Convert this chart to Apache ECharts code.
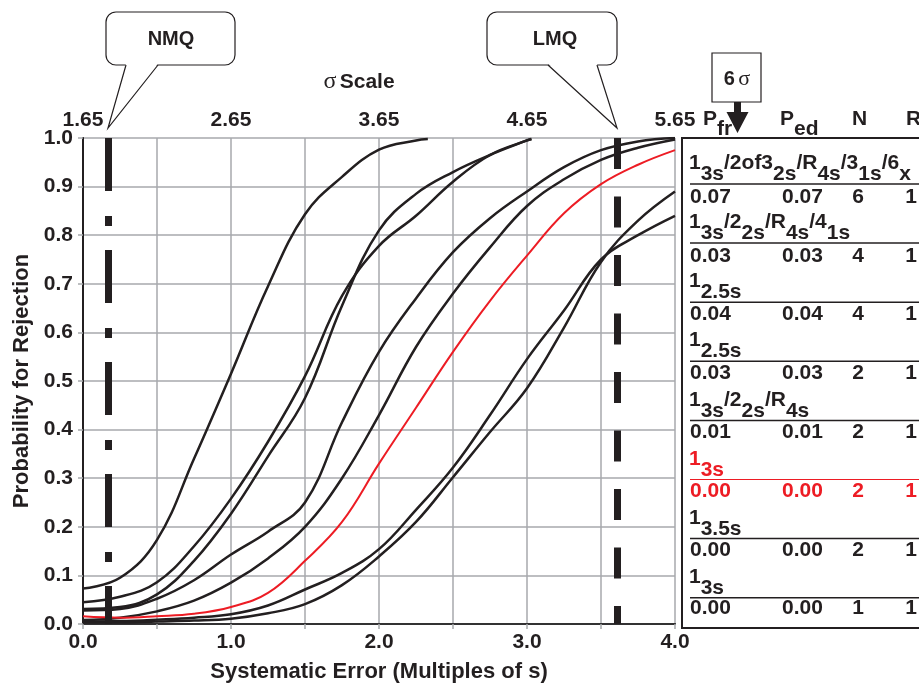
<!DOCTYPE html>
<html>
<head>
<meta charset="utf-8">
<script src="https://cdn.jsdelivr.net/npm/echarts@6/dist/echarts.min.js"></script>
<style>
html,body{margin:0;padding:0;background:#fff;}
#chart{width:919px;height:688px;}
</style>
</head>
<body>
<div id="chart"></div>
<script>
// ---------------- DATA ----------------
// x = systematic error (multiples of s), y = probability for rejection
const curveA = [[0,0.073],[0.25,0.095],[0.5,0.173],[0.75,0.34],[1.0,0.515],[1.25,0.695],[1.5,0.843],[1.75,0.92],[2.0,0.976],[2.25,0.995],[2.33,0.998]];
const curveB = [[0,0.045],[0.25,0.056],[0.5,0.086],[0.75,0.16],[1.0,0.258],[1.25,0.375],[1.5,0.51],[1.75,0.675],[2.0,0.778],[2.25,0.84],[2.5,0.91],[2.75,0.965],[3.0,0.995],[3.03,0.998]];
const curveC = [[0,0.031],[0.25,0.035],[0.5,0.061],[0.75,0.13],[1.0,0.227],[1.25,0.345],[1.5,0.465],[1.75,0.655],[2.0,0.81],[2.25,0.885],[2.5,0.93],[2.75,0.965],[3.0,0.995],[3.03,0.998]];
const curveD = [[0,0.028],[0.25,0.031],[0.5,0.052],[0.75,0.09],[1.0,0.143],[1.25,0.19],[1.5,0.25],[1.75,0.415],[2.0,0.56],[2.25,0.67],[2.5,0.765],[2.75,0.835],[3.0,0.89],[3.25,0.94],[3.5,0.975],[3.75,0.993],[4.0,1.0]];
const curveE = [[0,0.008],[0.25,0.013],[0.5,0.026],[0.75,0.048],[1.0,0.085],[1.25,0.135],[1.5,0.20],[1.75,0.30],[2.0,0.43],[2.25,0.57],[2.5,0.68],[2.75,0.775],[3.0,0.86],[3.25,0.915],[3.5,0.955],[3.75,0.98],[4.0,0.997]];
const curveRed = [[0,0.016],[0.25,0.013],[0.5,0.016],[0.75,0.021],[1.0,0.035],[1.25,0.064],[1.5,0.13],[1.75,0.21],[2.0,0.33],[2.25,0.445],[2.5,0.56],[2.75,0.665],[3.0,0.758],[3.25,0.845],[3.5,0.905],[3.75,0.945],[4.0,0.975]];
const curveF = [[0,0.005],[0.25,0.006],[0.5,0.009],[0.75,0.013],[1.0,0.02],[1.25,0.038],[1.5,0.071],[1.75,0.105],[2.0,0.154],[2.25,0.235],[2.5,0.322],[2.75,0.43],[3.0,0.545],[3.25,0.645],[3.5,0.75],[3.75,0.80],[4.0,0.84]];
const curveG = [[0,0.003],[0.25,0.003],[0.5,0.005],[0.75,0.007],[1.0,0.011],[1.25,0.022],[1.5,0.041],[1.75,0.08],[2.0,0.139],[2.25,0.21],[2.5,0.302],[2.75,0.395],[3.0,0.485],[3.25,0.61],[3.5,0.745],[3.75,0.83],[4.0,0.89]];

const sigmaOffset = 1.65;          // sigma scale = systematic error + 1.65
const nmqX = 0.17;                  // NMQ reference line
const lmqX = 3.61;                  // LMQ reference line

// table
const tableHeaders = ['P_{fr}', 'P_{ed}', 'N', 'R'];
const ruleNames = ['1_{3s}/2of3_{2s}/R_{4s}/3_{1s}/6_{x}', '1_{3s}/2_{2s}/R_{4s}/4_{1s}', '1_{2.5s}', '1_{2.5s}', '1_{3s}/2_{2s}/R_{4s}', '1_{3s}', '1_{3.5s}', '1_{3s}'];
const pfrVals = ['0.07','0.03','0.04','0.03','0.01','0.00','0.00','0.00'];
const pedVals = ['0.07','0.03','0.04','0.03','0.01','0.00','0.00','0.00'];
const nVals = ['6','4','4','2','2','2','2','1'];
const rVals = ['1','1','1','1','1','1','1','1'];
const highlightRow = 5;

// ---------------- STYLE ----------------
const FF = '"Liberation Sans", Arial, Helvetica, sans-serif';
const SERIF = '"Liberation Serif", "DejaVu Serif", serif';
const INK = '#231f20';
const RED = '#ed1c24';
const GRIDC = '#a7a9ac';

const chart = echarts.init(document.getElementById('chart'), null, {renderer: 'canvas'});

function toRich(s, up, low) {
  let out = '', last = 0, m;
  const re = /_\{([^}]*)\}/g;
  while ((m = re.exec(s))) {
    if (m.index > last) out += '{' + up + '|' + s.slice(last, m.index) + '}';
    out += '{' + low + '|' + m[1] + '}';
    last = re.lastIndex;
  }
  if (last < s.length) out += '{' + up + '|' + s.slice(last) + '}';
  return out;
}

function lineSeries(name, data, color, width) {
  return {
    name: name, type: 'line', data: data, showSymbol: false, symbol: 'none',
    smooth: 0.4,
    lineStyle: {color: color, width: width}, z: 3, silent: true
  };
}

const graphics = [];

// callouts: rounded box + pointer
function callout(box, base1, base2, tip, label, cx, cy) {
  graphics.push({type: 'rect', shape: {x: box[0], y: box[1], width: box[2], height: box[3], r: 10}, style: {fill: '#fff', stroke: INK, lineWidth: 1.2}, z: 10});
  const by = box[1] + box[3];
  graphics.push({type: 'polygon', shape: {points: [[base1, by - 1.5], [base2, by - 1.5], tip]}, style: {fill: '#fff'}, z: 11});
  graphics.push({type: 'polyline', shape: {points: [[base1, by], tip, [base2, by]]}, style: {stroke: INK, lineWidth: 1.2, fill: null}, z: 12});
  graphics.push({type: 'text', x: cx, y: cy, style: {text: label, font: 'bold 20px ' + FF, fill: INK, align: 'center', verticalAlign: 'middle'}, z: 13});
}
callout([106, 12, 129, 53], 126, 158, [108, 128], 'NMQ', 171, 39);
callout([487, 12, 130, 53], 548, 597, [617, 128], 'LMQ', 555, 39);

// sigma scale title
graphics.push({type: 'text', x: 359, y: 82, style: {
  text: '{s|σ} {b|Scale}', align: 'center', verticalAlign: 'middle', fill: INK,
  rich: {s: {fontFamily: SERIF, fontSize: 24, fill: INK}, b: {fontFamily: FF, fontWeight: 'bold', fontSize: 21, fill: INK}}
}});

// 6 sigma box and arrow
graphics.push({type: 'rect', shape: {x: 712, y: 53, width: 49, height: 49}, style: {fill: '#fff', stroke: INK, lineWidth: 1.2}});
graphics.push({type: 'text', x: 737, y: 79, style: {
  text: '{b|6} {s|σ}', align: 'center', verticalAlign: 'middle',
  rich: {b: {fontFamily: FF, fontWeight: 'bold', fontSize: 20, fill: INK}, s: {fontFamily: SERIF, fontSize: 22, fill: INK}}
}});
graphics.push({type: 'polygon', shape: {points: [[734,102],[741,102],[741,112],[748.5,112],[737.5,133],[726.5,112],[734,112]]}, style: {fill: INK}, z: 12});

// table frame
graphics.push({type: 'polyline', shape: {points: [[940,138],[682,138],[682,628],[940,628]]}, style: {stroke: INK, lineWidth: 2, fill: null}});

// headers
const hdrRich = {
  u: {fontFamily: FF, fontWeight: 'bold', fontSize: 21, fill: INK, padding: [0,0,10,0]},
  l: {fontFamily: FF, fontWeight: 'bold', fontSize: 21, fill: INK, padding: [10,0,0,0]}
};
const hdrX = [703, 780, 852, 906];
tableHeaders.forEach(function (h, i) {
  graphics.push({type: 'text', x: hdrX[i], y: 109, style: {text: toRich(h, 'u', 'l'), align: 'left', verticalAlign: 'top', rich: hdrRich}, z: 5});
});

// rows
ruleNames.forEach(function (nm, i) {
  const col = i === highlightRow ? RED : INK;
  const rich = {
    u: {fontFamily: FF, fontWeight: 'bold', fontSize: 21, fill: col, padding: [0,0,11,0]},
    l: {fontFamily: FF, fontWeight: 'bold', fontSize: 21, fill: col, padding: [11,0,0,0]}
  };
  const yName = 163 + i * 59.2;
  const yLine = 184 + i * 59.1;
  const yVal = 197 + i * 58.8;
  graphics.push({type: 'text', x: 689, y: yName - 10.5, style: {text: toRich(nm, 'u', 'l'), align: 'left', verticalAlign: 'top', rich: rich}});
  graphics.push({type: 'line', shape: {x1: 690, y1: yLine, x2: 925, y2: yLine}, style: {stroke: col, lineWidth: i === highlightRow ? 1.2 : 1.5}});
  const f = 'bold 21px ' + FF;
  graphics.push({type: 'text', x: 690, y: yVal, style: {text: pfrVals[i], font: f, fill: col, align: 'left', verticalAlign: 'middle'}});
  graphics.push({type: 'text', x: 782, y: yVal, style: {text: pedVals[i], font: f, fill: col, align: 'left', verticalAlign: 'middle'}});
  graphics.push({type: 'text', x: 858, y: yVal, style: {text: nVals[i], font: f, fill: col, align: 'center', verticalAlign: 'middle'}});
  graphics.push({type: 'text', x: 911, y: yVal, style: {text: rVals[i], font: f, fill: col, align: 'center', verticalAlign: 'middle'}});
});

const labelStyle = {fontFamily: FF, fontWeight: 'bold', fontSize: 21, color: INK};

const option = {
  backgroundColor: '#fff',
  animation: false,
  grid: {left: 83, right: 244, top: 138, bottom: 60, containLabel: false},
  xAxis: [
    {
      type: 'value', min: 0, max: 4, interval: 0.5, position: 'bottom',
      name: 'Systematic Error (Multiples of s)', nameLocation: 'middle', nameGap: 37,
      nameTextStyle: {fontFamily: FF, fontWeight: 'bold', fontSize: 22, color: INK},
      axisLine: {show: true, lineStyle: {color: INK, width: 2}},
      axisTick: {show: true, length: 5, lineStyle: {color: GRIDC, width: 1.5}},
      axisLabel: Object.assign({margin: 8, formatter: function (v) { return Math.abs(v - Math.round(v)) < 1e-9 ? v.toFixed(1) : ''; }}, labelStyle),
      splitLine: {show: true, lineStyle: {color: GRIDC, width: 1.5}}
    },
    {
      type: 'value', min: 0, max: 4, interval: 1, position: 'top',
      axisLine: {show: true, lineStyle: {color: '#3a3a3a', width: 1.5}},
      axisTick: {show: false},
      axisLabel: Object.assign({margin: 7, formatter: function (v) { return (v + sigmaOffset).toFixed(2); }}, labelStyle),
      splitLine: {show: false}
    }
  ],
  yAxis: [
    {
      type: 'value', min: 0, max: 1, interval: 0.1,
      name: 'Probability for Rejection', nameLocation: 'middle', nameGap: 50, nameRotate: 90,
      nameTextStyle: {fontFamily: FF, fontWeight: 'bold', fontSize: 22, color: INK},
      axisLine: {show: true, lineStyle: {color: INK, width: 1.5}},
      axisTick: {show: true, length: 5, lineStyle: {color: GRIDC, width: 1.5}},
      axisLabel: Object.assign({margin: 10, formatter: function (v) { return v.toFixed(1); }}, labelStyle),
      splitLine: {show: true, lineStyle: {color: GRIDC, width: 1.5}}
    },
    {
      type: 'value', min: 0, max: 1, position: 'right',
      axisLine: {show: true, lineStyle: {color: INK, width: 2}},
      axisTick: {show: false}, axisLabel: {show: false}, splitLine: {show: false}
    }
  ],
  series: [
    lineSeries(ruleNames[0], curveA, INK, 2.5),
    lineSeries(ruleNames[2], curveB, INK, 2.5),
    lineSeries(ruleNames[1], curveC, INK, 2.5),
    lineSeries(ruleNames[3], curveD, INK, 2.5),
    lineSeries(ruleNames[4], curveE, INK, 2.5),
    lineSeries(ruleNames[5], curveRed, RED, 2),
    lineSeries(ruleNames[7], curveF, INK, 2.5),
    lineSeries(ruleNames[6], curveG, INK, 2.5),
    {
      name: 'quality requirements', type: 'line', data: [], silent: true, z: 6,
      markLine: {
        silent: true, symbol: ['none', 'none'], label: {show: false}, animation: false,
        data: [
          [{coord: [nmqX, 1], lineStyle: {color: INK, width: 7, type: [53, 25, 10, 24], cap: 'butt'}}, {coord: [nmqX, 0]}],
          [{coord: [lmqX, 1], lineStyle: {color: INK, width: 7, type: [31, 27.5], cap: 'butt'}}, {coord: [lmqX, 0]}]
        ]
      }
    }
  ],
  graphic: graphics
};
chart.setOption(option);
</script>
</body>
</html>
